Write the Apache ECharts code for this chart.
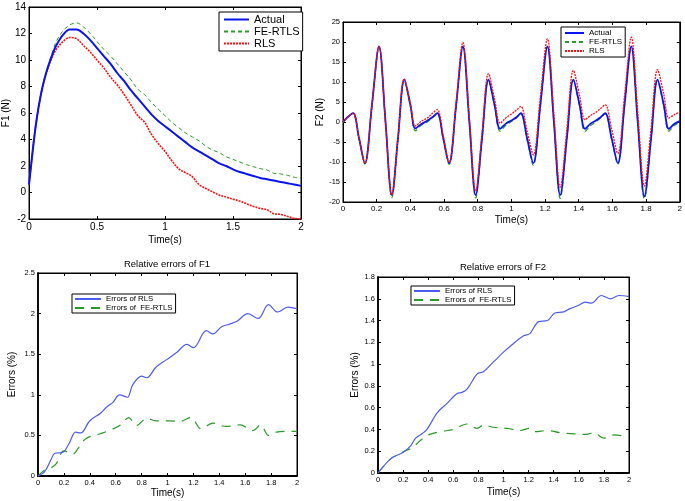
<!DOCTYPE html>
<html><head><meta charset="utf-8">
<script src="https://cdn.jsdelivr.net/npm/echarts@6/dist/echarts.min.js"></script>
<style>html,body{margin:0;padding:0;background:#fff}#c{width:685px;height:501px}</style>
</head><body><div id="c"></div>
<script>
// ---------- Data ----------
const f1Time = [0,0.02,0.04,0.06,0.08,0.1,0.125,0.15,0.175,0.2,0.25,0.3,0.35,0.4,0.45,0.5,0.55,0.6,0.65,0.7,0.75,0.8,0.85,0.9,0.95,1.0,1.05,1.1,1.15,1.2,1.25,1.3,1.35,1.4,1.45,1.5,1.55,1.6,1.65,1.7,1.75,1.8,1.85,1.9,1.95,2.0];
const f1Actual = [0.6,2.5,4.3,5.8,7.0,8.0,9.0,9.8,10.5,11.1,11.9,12.3,12.3,12.0,11.5,10.9,10.3,9.7,9.0,8.4,7.7,7.1,6.5,5.9,5.4,5.0,4.6,4.2,3.8,3.4,3.1,2.8,2.5,2.2,2.0,1.75,1.55,1.4,1.25,1.1,1.0,0.9,0.8,0.7,0.6,0.5];
const f1FeRtls = [0.6,2.5,4.3,5.8,7.0,8.0,9.0,9.9,10.7,11.4,12.2,12.65,12.8,12.5,12.0,11.4,10.8,10.3,9.7,9.1,8.5,7.8,7.4,6.8,6.3,5.8,5.3,4.9,4.5,4.2,3.9,3.5,3.2,3.0,2.7,2.5,2.3,2.1,1.95,1.8,1.7,1.45,1.4,1.3,1.15,1.1];
const f1Rls = [0.6,2.5,4.3,5.8,7.0,8.0,8.9,9.7,10.3,10.8,11.4,11.7,11.6,11.1,10.6,10.0,9.4,8.7,8.1,7.4,6.6,5.8,5.3,4.4,3.7,3.1,2.4,1.8,1.5,1.2,0.6,0.3,0.05,-0.2,-0.35,-0.5,-0.65,-0.85,-1.05,-1.2,-1.3,-1.6,-1.65,-1.8,-1.95,-2.0];

const f2Time = [0,0.03,0.06,0.095,0.13,0.172,0.214,0.252,0.29,0.327,0.364,0.40,0.43,0.465,0.50,
  0.53,0.56,0.595,0.63,0.672,0.712,0.75,0.788,0.826,0.864,0.90,0.933,0.967,1.0,
  1.03,1.056,1.093,1.13,1.172,1.214,1.252,1.29,1.33,1.368,1.405,1.437,1.47,1.5,
  1.53,1.557,1.595,1.632,1.672,1.712,1.75,1.79,1.83,1.868,1.905,1.935,1.967,2.0];
const f2Actual = [0,1.3,2.2,-4.0,-10.3,4.3,18.9,0.3,-18.3,-3.8,10.6,4.3,-1.6,-0.5,0.3,
  1.2,2.2,-4.0,-10.3,4.3,18.9,0.3,-18.3,-3.8,10.6,4.3,-1.7,-0.4,0.4,
  1.2,2.2,-4.0,-10.3,4.3,18.9,0.3,-18.3,-3.8,10.6,4.3,-1.7,-0.4,0.3,
  1.2,2.2,-4.0,-10.3,4.3,18.9,0.2,-18.6,-3.9,10.6,4.3,-1.7,-0.5,0.2];
const f2FeRtls = [0,1.3,2.2,-4.2,-10.5,4.2,18.8,0.1,-18.9,-4.2,10.4,4.0,-2.2,-0.8,0.0,
  1.0,2.0,-4.3,-10.6,4.1,18.7,0.0,-19.0,-4.3,10.4,4.0,-2.3,-0.8,0.1,
  1.0,2.0,-4.4,-10.8,4.0,18.7,-0.1,-19.1,-4.3,10.4,4.0,-2.4,-0.9,0.0,
  1.0,2.0,-4.3,-10.6,4.1,18.6,-0.1,-19.2,-4.3,10.3,3.9,-2.3,-0.9,-0.1];
const f2Rls = [0,1.3,2.2,-4.0,-10.3,4.3,18.9,0.3,-18.2,-3.7,10.8,4.6,-1.0,0.2,1.0,
  2.1,3.1,-3.4,-10.1,4.9,19.9,1.3,-17.3,-2.6,12.1,5.8,-0.3,1.0,2.0,
  3.0,3.9,-2.2,-8.2,6.3,20.8,2.2,-16.3,-1.6,12.9,6.6,0.6,1.6,2.4,
  3.4,4.3,-1.7,-7.9,6.6,21.2,2.6,-16.0,-1.4,13.1,6.9,1.0,1.8,2.5];

const e1RlsTime = [0,0.05,0.1,0.13,0.19,0.24,0.29,0.33,0.4,0.48,0.53,0.58,0.63,0.69,0.73,0.8,0.84,0.91,0.99,1.07,1.15,1.2,1.3,1.35,1.42,1.48,1.54,1.62,1.7,1.78,1.85,1.93,2.0];
const e1Rls = [0,0.05,0.2,0.28,0.29,0.4,0.54,0.53,0.68,0.77,0.85,0.91,1.0,0.97,1.12,1.23,1.21,1.34,1.43,1.52,1.62,1.58,1.79,1.75,1.84,1.87,1.91,2.0,1.94,2.11,2.02,2.08,2.06];
const e1FeTime = [0,0.05,0.1,0.14,0.2,0.27,0.31,0.37,0.48,0.55,0.64,0.7,0.76,0.84,0.91,1.02,1.09,1.18,1.26,1.35,1.45,1.56,1.66,1.72,1.78,1.84,1.92,2.0];
const e1Fe = [0,0.07,0.1,0.15,0.31,0.27,0.34,0.46,0.52,0.56,0.63,0.72,0.62,0.71,0.68,0.68,0.67,0.72,0.58,0.65,0.61,0.63,0.56,0.63,0.5,0.54,0.55,0.55];

const e2RlsTime = [0,0.1,0.165,0.2,0.26,0.3,0.35,0.39,0.47,0.55,0.63,0.67,0.71,0.79,0.84,0.92,1.0,1.08,1.16,1.21,1.28,1.35,1.41,1.48,1.53,1.6,1.65,1.7,1.78,1.85,1.92,2.0];
const e2Rls = [0,0.13,0.17,0.19,0.25,0.32,0.36,0.4,0.55,0.64,0.73,0.74,0.77,0.91,0.93,1.02,1.11,1.19,1.26,1.28,1.39,1.4,1.47,1.48,1.51,1.54,1.57,1.56,1.63,1.6,1.63,1.62];
const e2FeTime = [0,0.1,0.18,0.23,0.27,0.34,0.4,0.5,0.6,0.71,0.79,0.84,0.92,1.03,1.13,1.21,1.25,1.35,1.45,1.56,1.66,1.72,1.8,1.88,2.0];
const e2Fe = [0,0.13,0.18,0.21,0.23,0.3,0.35,0.38,0.4,0.45,0.41,0.44,0.42,0.41,0.39,0.41,0.38,0.39,0.37,0.36,0.355,0.37,0.32,0.35,0.33];

const namesTop = ['Actual','FE-RTLS','RLS'];
const namesBottom = ['Errors of RLS','Errors of  FE-RTLS'];
const titles = ['Relative errors of F1','Relative errors of F2'];

// ---------- Helpers ----------
const FONT = 'Liberation Sans, Arial, sans-serif';
const pairs = (t, v) => t.map((x, i) => [x, v[i]]);

const grids = [
  {left: 27, top: 7, width: 274, height: 212},
  {left: 343, top: 22, width: 339, height: 180},
  {left: 38, top: 273, width: 259, height: 203},
  {left: 378, top: 277, width: 251, height: 196}
];
const axCfg = [
  {xi: 0.5, yMin: -2, yMax: 14, yi: 2, fx: 10, fy: 10, yName: 'F1 (N)', yGap: 14, xGap: 16, nfs: 10, lw: 1},
  {xi: 0.2, yMin: -20, yMax: 25, yi: 5, fx: 8, fy: 7.5, yName: 'F2 (N)', yGap: 16, xGap: 13, nfs: 10, lw: 1},
  {xi: 0.2, yMin: 0, yMax: 2.5, yi: 0.5, fx: 7.5, fy: 7.5, yName: 'Errors (%)', yGap: 21, xGap: 12, nfs: 10, lw: 1.8},
  {xi: 0.2, yMin: 0, yMax: 1.8, yi: 0.2, fx: 7.5, fy: 7.5, yName: 'Errors (%)', yGap: 18, xGap: 14, nfs: 10, lw: 1.8}
];

const xAxis = [], yAxis = [];
axCfg.forEach((c, g) => {
  const tick = {show: true, inside: true, length: 3, lineStyle: {color: '#000', width: 1}};
  const line = {show: true, onZero: false, lineStyle: {color: '#000', width: c.lw}};
  const line2 = {show: true, onZero: false, lineStyle: {color: '#000', width: 1}};
  xAxis.push({type: 'value', gridIndex: g, min: 0, max: 2, interval: c.xi, position: 'bottom',
    axisLine: line, axisTick: tick, splitLine: {show: false},
    axisLabel: {color: '#000', fontSize: c.fx, fontFamily: FONT, margin: 3},
    name: 'Time(s)', nameLocation: 'middle', nameGap: c.xGap,
    nameTextStyle: {color: '#000', fontSize: c.nfs, fontFamily: FONT}});
  xAxis.push({type: 'value', gridIndex: g, min: 0, max: 2, interval: c.xi, position: 'top',
    axisLine: line2, axisTick: tick, splitLine: {show: false}, axisLabel: {show: false}});
  yAxis.push({type: 'value', gridIndex: g, min: c.yMin, max: c.yMax, interval: c.yi, position: 'left',
    axisLine: line, axisTick: tick, splitLine: {show: false},
    axisLabel: {color: '#000', fontSize: c.fy, fontFamily: FONT, margin: 3},
    name: c.yName, nameLocation: 'middle', nameGap: c.yGap,
    nameTextStyle: {color: '#000', fontSize: c.nfs, fontFamily: FONT}});
  yAxis.push({type: 'value', gridIndex: g, min: c.yMin, max: c.yMax, interval: c.yi, position: 'right',
    axisLine: line2, axisTick: tick, splitLine: {show: false}, axisLabel: {show: false}});
});

const ln = (name, g, data, color, width, type, z) => ({
  name, type: 'line', xAxisIndex: g * 2, yAxisIndex: g * 2, data,
  showSymbol: false, symbol: 'none', smooth: 0.35, z: z || 2,
  lineStyle: {color, width, type}, itemStyle: {color}
});

const BLUE = '#0a14f0', GREEN = '#2a9a2a', RED = '#ff1010', LBLUE = '#4d5cf5';

const series = [
  ln('FE-RTLS', 0, pairs(f1Time, f1FeRtls), GREEN, 1, [4, 3], 2),
  ln('RLS', 0, pairs(f1Time, f1Rls), RED, 1.6, [2, 1], 3),
  ln('Actual', 0, pairs(f1Time, f1Actual), BLUE, 2, 'solid', 4),
  ln('FE-RTLS', 1, pairs(f2Time, f2FeRtls), GREEN, 1.2, [5, 3], 2),
  ln('Actual', 1, pairs(f2Time, f2Actual), BLUE, 1.8, 'solid', 3),
  ln('RLS', 1, pairs(f2Time, f2Rls), RED, 1.3, [2, 1], 4),
  ln('Errors of RLS', 2, pairs(e1RlsTime, e1Rls), LBLUE, 1.2, 'solid', 3),
  ln('Errors of  FE-RTLS', 2, pairs(e1FeTime, e1Fe), GREEN, 1.2, [9, 7], 2),
  ln('Errors of RLS', 3, pairs(e2RlsTime, e2Rls), LBLUE, 1.2, 'solid', 3),
  ln('Errors of  FE-RTLS', 3, pairs(e2FeTime, e2Fe), GREEN, 1.2, [9, 7], 2)
];

const legBase = {orient: 'vertical', borderColor: '#000', borderWidth: 1, backgroundColor: '#fff',
  borderRadius: 0, selectedMode: false, align: 'left', itemStyle: {opacity: 0}};
const legend = [
  Object.assign({}, legBase, {data: namesTop, left: 219, top: 12, itemWidth: 25, itemHeight: 12, itemGap: 1,
    padding: [2, 3, 2, 4], textStyle: {fontSize: 11, fontFamily: FONT, color: '#000'}}),
  Object.assign({}, legBase, {data: namesTop, left: 561, top: 27, itemWidth: 19, itemHeight: 10, itemGap: 1,
    padding: [2, 3, 2, 3], textStyle: {fontSize: 8, fontFamily: FONT, color: '#000'}}),
  Object.assign({}, legBase, {data: namesBottom, left: 72, top: 294, itemWidth: 26, itemHeight: 10, itemGap: 1,
    padding: [1, 3, 1, 2], textStyle: {fontSize: 7.8, fontFamily: FONT, color: '#000'}}),
  Object.assign({}, legBase, {data: namesBottom, left: 411, top: 286, itemWidth: 26, itemHeight: 10, itemGap: 1,
    padding: [1, 3, 1, 2], textStyle: {fontSize: 7.8, fontFamily: FONT, color: '#000'}})
];

const title = [
  {text: titles[0], left: 167, top: 259, padding: 0, textAlign: 'center', textStyle: {fontSize: 9.5, fontWeight: 'normal', fontFamily: FONT, color: '#000'}},
  {text: titles[1], left: 503, top: 262, padding: 0, textAlign: 'center', textStyle: {fontSize: 9.5, fontWeight: 'normal', fontFamily: FONT, color: '#000'}}
];

const chart = echarts.init(document.getElementById('c'), null, {renderer: 'canvas'});
chart.setOption({
  animation: false, backgroundColor: '#fff',
  grid: grids.map(g => Object.assign({show: true, borderColor: '#000', borderWidth: 1, backgroundColor: 'transparent'}, g)),
  xAxis, yAxis, series, legend, title
});
</script></body></html>
